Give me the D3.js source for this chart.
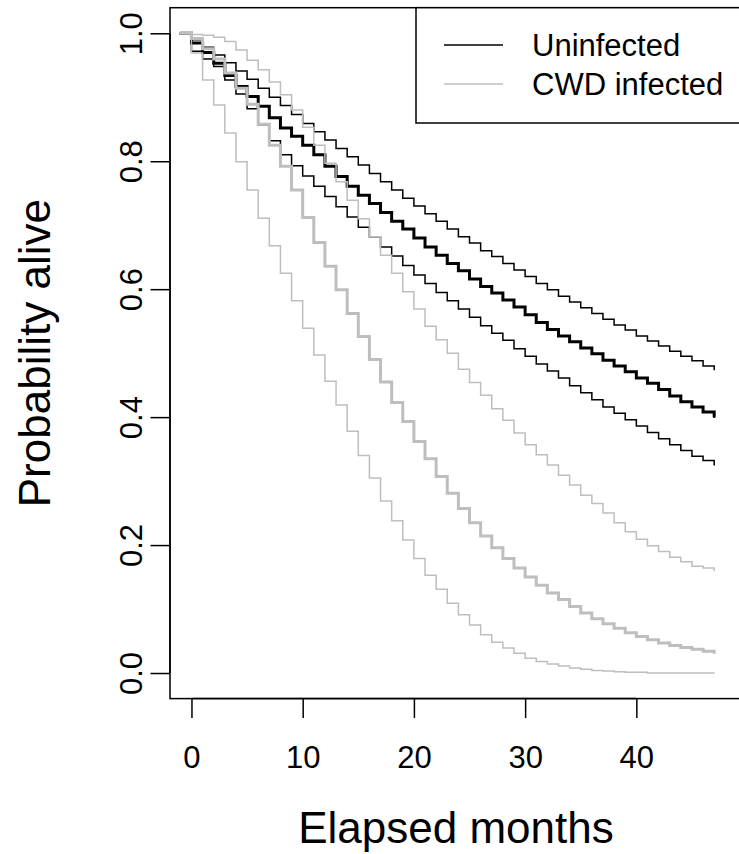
<!DOCTYPE html>
<html>
<head>
<meta charset="utf-8">
<script src="https://cdn.jsdelivr.net/npm/d3@7"></script>
<style>
  html, body { margin: 0; padding: 0; background: #fff; }
  svg { display: block; font-family: "Liberation Sans", Arial, sans-serif; }
</style>
</head>
<body>
<svg id="chart" width="739" height="854"></svg>
<script>
// survival estimates, one value per month from -1 to 47
var months = d3.range(-1, 48);

var uninfMid = [1.000, 0.985, 0.970, 0.953, 0.934, 0.917, 0.901, 0.886, 0.868, 0.852,
  0.839, 0.825, 0.810, 0.792, 0.776, 0.761, 0.747, 0.734, 0.720, 0.706,
  0.694, 0.680, 0.666, 0.653, 0.640, 0.629, 0.616, 0.604, 0.594, 0.583,
  0.572, 0.560, 0.548, 0.537, 0.527, 0.518, 0.508, 0.499, 0.489, 0.480,
  0.471, 0.461, 0.453, 0.443, 0.433, 0.424, 0.416, 0.408, 0.401];
var uninfUpper = [1.000, 0.990, 0.978, 0.966, 0.954, 0.941, 0.928, 0.914, 0.900, 0.887,
  0.873, 0.859, 0.846, 0.833, 0.820, 0.807, 0.794, 0.781, 0.768, 0.755,
  0.742, 0.730, 0.718, 0.706, 0.694, 0.682, 0.672, 0.660, 0.651, 0.640,
  0.630, 0.620, 0.609, 0.599, 0.589, 0.580, 0.571, 0.562, 0.553, 0.544,
  0.536, 0.527, 0.519, 0.511, 0.503, 0.495, 0.488, 0.480, 0.474];
var uninfLower = [1.000, 0.972, 0.960, 0.948, 0.927, 0.905, 0.882, 0.857, 0.832, 0.810,
  0.793, 0.777, 0.761, 0.745, 0.729, 0.713, 0.697, 0.682, 0.666, 0.652,
  0.637, 0.622, 0.609, 0.595, 0.582, 0.569, 0.556, 0.543, 0.531, 0.520,
  0.507, 0.495, 0.483, 0.472, 0.461, 0.449, 0.438, 0.427, 0.416, 0.406,
  0.396, 0.386, 0.376, 0.366, 0.357, 0.348, 0.339, 0.332, 0.325];
var cwdMid = [1.000, 0.992, 0.976, 0.960, 0.938, 0.914, 0.889, 0.858, 0.825, 0.792,
  0.755, 0.712, 0.673, 0.636, 0.599, 0.562, 0.526, 0.490, 0.455, 0.423,
  0.393, 0.362, 0.335, 0.307, 0.281, 0.257, 0.235, 0.214, 0.196, 0.179,
  0.164, 0.150, 0.137, 0.125, 0.115, 0.104, 0.094, 0.085, 0.077, 0.070,
  0.063, 0.057, 0.052, 0.047, 0.043, 0.040, 0.037, 0.034, 0.032];
var cwdUpper = [1.000, 0.998, 0.997, 0.994, 0.987, 0.974, 0.958, 0.943, 0.924, 0.904,
  0.880, 0.853, 0.825, 0.797, 0.768, 0.739, 0.710, 0.682, 0.653, 0.625,
  0.596, 0.569, 0.542, 0.521, 0.500, 0.475, 0.454, 0.434, 0.413, 0.395,
  0.375, 0.357, 0.341, 0.325, 0.309, 0.294, 0.278, 0.265, 0.250, 0.235,
  0.221, 0.209, 0.199, 0.190, 0.181, 0.174, 0.167, 0.164, 0.160];
var cwdLower = [1.000, 0.969, 0.927, 0.888, 0.844, 0.799, 0.755, 0.711, 0.668, 0.625,
  0.582, 0.539, 0.497, 0.456, 0.419, 0.378, 0.340, 0.305, 0.269, 0.238,
  0.208, 0.179, 0.153, 0.131, 0.109, 0.091, 0.075, 0.060, 0.048, 0.039,
  0.031, 0.023, 0.018, 0.014, 0.011, 0.008, 0.006, 0.004, 0.003, 0.002,
  0.001, 0.001, 0.000, 0.000, 0.000, 0.000, 0.000, 0.000, 0.000];

var xTicks = [0, 10, 20, 30, 40];
var yTicks = [0, 0.2, 0.4, 0.6, 0.8, 1.0];
var legendLabels = ["Uninfected", "CWD infected"];

var BLACK = "#000000", GREY = "#bebebe";
var THIN = 1.5, THICK = 3;

// black first, grey drawn on top of it
var curves = [
  {values: uninfUpper, color: BLACK, width: THIN},
  {values: uninfLower, color: BLACK, width: THIN},
  {values: uninfMid,   color: BLACK, width: THICK},
  {values: cwdUpper,   color: GREY,  width: THIN},
  {values: cwdLower,   color: GREY,  width: THIN},
  {values: cwdMid,     color: GREY,  width: THICK}
];

var svg = d3.select("#chart");
var box = {left: 170, right: 742, top: 7.7, bottom: 698.6};

var x = d3.scaleLinear().domain([-1.93, 49.5]).range([box.left, box.right]);
var y = d3.scaleLinear().domain([-0.04, 1.04]).range([box.bottom, box.top]);

var line = d3.line()
  .curve(d3.curveStepAfter)
  .x(function(d, i) { return x(months[i]); })
  .y(function(d) { return y(d); });

svg.append("g")
  .selectAll("path")
  .data(curves)
  .enter()
  .append("path")
  .attr("d", function(c) { return line(c.values); })
  .attr("fill", "none")
  .attr("stroke", function(c) { return c.color; })
  .attr("stroke-width", function(c) { return c.width; })
  .attr("stroke-linecap", "round");

// plot box
svg.append("rect")
  .attr("x", box.left)
  .attr("y", box.top)
  .attr("width", box.right - box.left)
  .attr("height", box.bottom - box.top)
  .attr("fill", "none")
  .attr("stroke", "#000")
  .attr("stroke-width", 1.5);

// axes
var xAxis = svg.append("g")
  .attr("transform", "translate(0," + box.bottom + ")")
  .call(d3.axisBottom(x).tickValues(xTicks).tickSize(19.5).tickSizeOuter(0));
xAxis.select(".domain")
  .attr("d", "M" + x(0) + ",0H" + x(40))
  .attr("stroke-width", 1.5);
xAxis.selectAll(".tick line").attr("stroke-width", 1.5);
xAxis.selectAll(".tick text")
  .attr("font-size", 31)
  .attr("font-family", "Liberation Sans, Arial, sans-serif")
  .attr("fill", "#000")
  .attr("dy", 0)
  .attr("y", 69.5);

var yAxis = svg.append("g")
  .attr("transform", "translate(" + box.left + ",0)")
  .call(d3.axisLeft(y).tickValues(yTicks).tickSize(19.5).tickFormat(d3.format(".1f")).tickSizeOuter(0));
yAxis.select(".domain")
  .attr("d", "M0," + y(0) + "V" + y(1))
  .attr("stroke-width", 1.5);
yAxis.selectAll(".tick line").attr("stroke-width", 1.5);
yAxis.selectAll(".tick text")
  .attr("font-size", 31)
  .attr("font-family", "Liberation Sans, Arial, sans-serif")
  .attr("fill", "#000")
  .attr("x", 0)
  .attr("dy", 0)
  .attr("text-anchor", "middle")
  .attr("transform", "translate(-28,0) rotate(-90)");

// axis titles
svg.append("text")
  .attr("x", (box.left + box.right) / 2)
  .attr("y", 843)
  .attr("text-anchor", "middle")
  .attr("font-size", 44)
  .text("Elapsed months");

svg.append("text")
  .attr("transform", "translate(50," + (box.top + box.bottom) / 2 + ") rotate(-90)")
  .attr("text-anchor", "middle")
  .attr("font-size", 44)
  .text("Probability alive");

// legend
var legend = svg.append("g");
legend.append("rect")
  .attr("x", 416)
  .attr("y", box.top)
  .attr("width", box.right - 416)
  .attr("height", 123 - box.top)
  .attr("fill", "#fff")
  .attr("stroke", "#000")
  .attr("stroke-width", 1.5);

var legendItems = legend.selectAll(".legend-item")
  .data(legendLabels)
  .enter()
  .append("g")
  .attr("class", "legend-item")
  .attr("transform", function(d, i) { return "translate(0," + (45 + i * 39) + ")"; });

legendItems.append("line")
  .attr("x1", 444)
  .attr("x2", 503)
  .attr("stroke", function(d, i) { return i == 0 ? BLACK : GREY; })
  .attr("stroke-width", THIN);

legendItems.append("text")
  .attr("x", 532)
  .attr("y", 11)
  .attr("font-size", 31)
  .text(function(d) { return d; });
</script>
</body>
</html>
